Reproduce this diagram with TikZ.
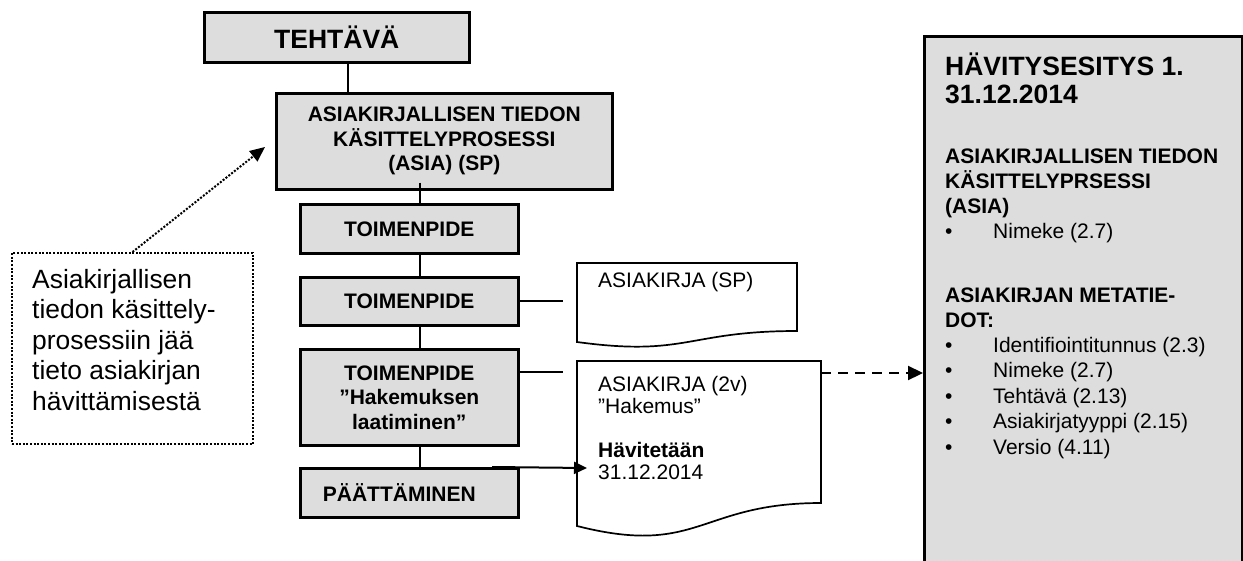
\documentclass[tikz,border=0pt]{standalone}
\usepackage{fontspec}
\setmainfont{Liberation Sans}
\usetikzlibrary{arrows.meta}
\definecolor{boxgray}{RGB}{221,221,221}
\begin{document}
\begin{tikzpicture}[x=1pt,y=-1pt,
  gbox/.style={draw, line width=2.6pt, fill=boxgray, align=center, inner sep=0pt,
    font=\bfseries\fontsize{21}{24.5}\selectfont},
  conn/.style={line width=2pt},
  docshape/.style={draw, line width=1.7pt},
  arr/.style={line width=2pt, -{Triangle[length=13pt,width=12pt]}},
  dasharr/.style={line width=2.2pt, dash pattern=on 10pt off 7pt, -{Triangle[length=15pt,width=14pt]}},
  dotline/.style={line width=2pt, dash pattern=on 2pt off 1.6pt},
  dotarr/.style={dotline, -{Triangle[length=15pt,width=13pt]}},
  txt/.style={inner sep=0pt, anchor=base west, font=\fontsize{21}{25}\selectfont},
  btxt/.style={txt, font=\bfseries\fontsize{21}{25}\selectfont},
  ttxt/.style={txt, font=\bfseries\fontsize{26.5}{28}\selectfont},
]
\useasboundingbox (0,0) rectangle (1243,560);

% helper coordinates
\coordinate (vx) at (348,0);
\coordinate (sx) at (420,0);
\coordinate (ex) at (563,0);
\coordinate (h3) at (563,372);
\coordinate (a3s) at (492,468);
\coordinate (a3) at (587,468);
\coordinate (d2e) at (821,373);
\coordinate (nt) at (265,147);

% left process column
\node[gbox, minimum width=265pt, minimum height=50pt, anchor=north west,
  font=\bfseries\fontsize{26.5}{28}\selectfont] (teh) at (203,11) {TEHTÄVÄ};
\node[gbox, minimum width=336pt, minimum height=96pt, anchor=north west] (asia) at (275,92)
  {ASIAKIRJALLISEN TIEDON\\KÄSITTELYPROSESSI\\(ASIA) (SP)};
\node[gbox, minimum width=218pt, minimum height=49pt, anchor=north west] (t1) at (299,203) {TOIMENPIDE};
\node[gbox, minimum width=218pt, minimum height=48pt, anchor=north west] (t2) at (299,276) {TOIMENPIDE};
\node[gbox, minimum width=218pt, minimum height=96pt, anchor=north west] (t3) at (299,348)
  {TOIMENPIDE\\”Hakemuksen\\laatiminen”};
\node[gbox, minimum width=218pt, minimum height=49pt, anchor=north west] (pt) at (299,467)
  {PÄÄTTÄMINEN\hspace*{20pt}};

\draw[conn] (teh.south -| vx) -- (asia.north -| vx);
\draw[conn] ([yshift=8pt]asia.south -| sx) -- (t1.north -| sx);
\draw[conn] (t1.south -| sx) -- (t2.north -| sx);
\draw[conn] (t2.south -| sx) -- (t3.north -| sx);
\draw[conn] (t3.south -| sx) -- (pt.north -| sx);
\draw[conn] (t2.east) -- (t2.east -| ex);
\draw[conn] (t3.east |- h3) -- (h3);
\draw[arr] (pt.north -| a3s) -- (a3);

% documents
\draw[docshape] (577,263) -- (797,263) -- (797,331)
  .. controls (687,331) and (687,357) .. (577,342) -- cycle;
\node[txt] (d1t) at (598,287) {ASIAKIRJA (SP)};
\draw[docshape] (577,361) -- (821,361) -- (821,503)
  .. controls (699,503) and (699,557) .. (577,526) -- cycle;
\node[txt] (d2a) at (598,391) {ASIAKIRJA (2v)};
\node[txt] (d2b) at (598,413) {”Hakemus”};
\node[btxt] (d2c) at (598,457) {Hävitetään};
\node[txt] (d2d) at (598,479) {31.12.2014};

% right box
\node[draw, line width=3pt, fill=boxgray, minimum width=318pt, minimum height=540pt,
  anchor=north west, inner sep=0pt] (hv) at (923,35) {};
\node[ttxt] (ht1) at (945,75) {HÄVITYSESITYS 1.};
\node[ttxt] (ht2) at (945,103) {31.12.2014};
\node[btxt] (s1a) at (945,163) {ASIAKIRJALLISEN TIEDON};
\node[btxt] (s1b) at (945,188) {KÄSITTELYPRSESSI};
\node[btxt] (s1c) at (945,213) {(ASIA)};
\node[txt] (b0) at (945,238) {\makebox[48pt][l]{\textbullet}Nimeke (2.7)};
\node[btxt] (s2a) at (945,302) {ASIAKIRJAN METATIE-};
\node[btxt] (s2b) at (945,327) {DOT:};
\foreach \t [count=\i from 0] in {Identifiointitunnus (2.3), Nimeke (2.7), Tehtävä (2.13), Asiakirjatyyppi (2.15), Versio (4.11)}
  \node[txt] (b\i x) at (945,{352+25.5*\i}) {\makebox[48pt][l]{\textbullet}\t};

\draw[dasharr] (d2e) -- (hv.west |- d2e);

% note box
\node[draw, dotline, minimum width=241pt, minimum height=191pt, anchor=north west, inner sep=0pt]
  (note) at (11,252) {};
\node[inner sep=0pt, anchor=north west, align=left, font=\fontsize{26.4}{30.5}\selectfont] (notet) at (32,269)
  {Asiakirjallisen\\tiedon käsittely-\\prosessiin jää\\tieto asiakirjan\\hävittämisestä};
\draw[dotarr] (note.north) -- (nt);
\end{tikzpicture}
\end{document}
